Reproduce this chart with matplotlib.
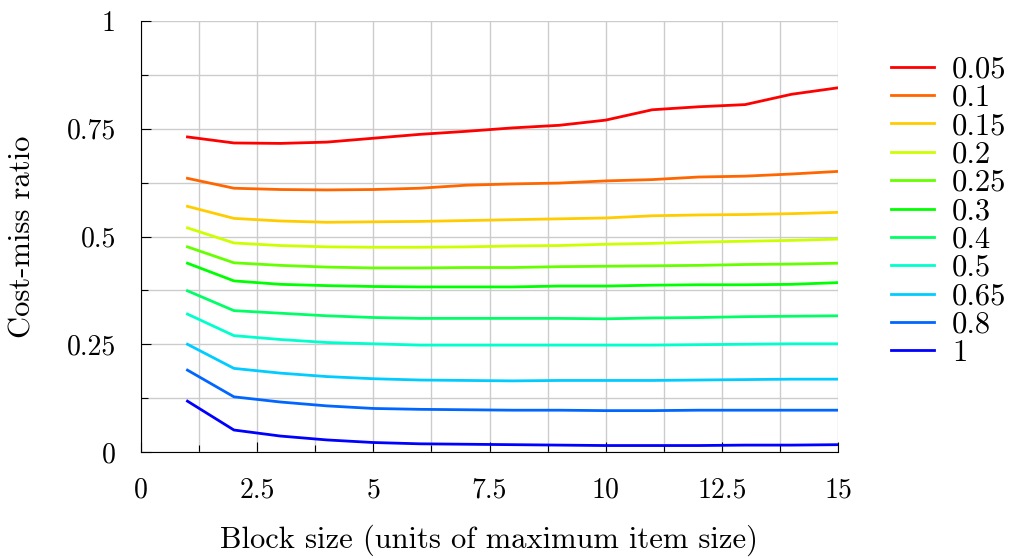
import matplotlib
matplotlib.use("Agg")
import matplotlib.pyplot as plt
from matplotlib.ticker import MultipleLocator, FixedLocator

# block sizes
block = [1, 2, 3, 4, 5, 6, 7, 8, 9, 10, 11, 12, 13, 14, 15]

labels = ["0.05", "0.1", "0.15", "0.2", "0.25", "0.3", "0.4", "0.5", "0.65", "0.8", "1"]

r005 = [0.731, 0.717, 0.716, 0.719, 0.728, 0.737, 0.744, 0.752, 0.758, 0.770, 0.794, 0.801, 0.806, 0.830, 0.845]
r01 = [0.635, 0.612, 0.609, 0.608, 0.609, 0.612, 0.619, 0.622, 0.624, 0.629, 0.632, 0.638, 0.640, 0.645, 0.651]
r015 = [0.570, 0.542, 0.536, 0.533, 0.534, 0.535, 0.537, 0.539, 0.541, 0.543, 0.548, 0.550, 0.551, 0.553, 0.556]
r02 = [0.520, 0.485, 0.479, 0.476, 0.475, 0.475, 0.476, 0.478, 0.479, 0.482, 0.484, 0.487, 0.489, 0.491, 0.494]
r025 = [0.476, 0.439, 0.433, 0.429, 0.427, 0.427, 0.428, 0.428, 0.430, 0.431, 0.432, 0.433, 0.435, 0.436, 0.438]
r03 = [0.438, 0.397, 0.389, 0.386, 0.384, 0.383, 0.383, 0.383, 0.385, 0.385, 0.387, 0.388, 0.388, 0.389, 0.393]
r04 = [0.374, 0.328, 0.322, 0.316, 0.312, 0.310, 0.310, 0.310, 0.310, 0.309, 0.311, 0.312, 0.314, 0.315, 0.316]
r05 = [0.320, 0.270, 0.261, 0.254, 0.251, 0.248, 0.248, 0.248, 0.248, 0.248, 0.248, 0.249, 0.250, 0.251, 0.251]
r065 = [0.250, 0.194, 0.183, 0.175, 0.170, 0.167, 0.166, 0.165, 0.166, 0.166, 0.166, 0.167, 0.168, 0.169, 0.169]
r08 = [0.190, 0.128, 0.116, 0.107, 0.101, 0.099, 0.098, 0.097, 0.097, 0.096, 0.096, 0.097, 0.097, 0.097, 0.097]
r1 = [0.118, 0.051, 0.037, 0.028, 0.022, 0.019, 0.018, 0.017, 0.016, 0.015, 0.015, 0.015, 0.016, 0.016, 0.017]

series = [r005, r01, r015, r02, r025, r03, r04, r05, r065, r08, r1]
colors = ["#ff0000", "#ff6600", "#ffcc00", "#ccff00", "#66ff00", "#00ff00",
          "#00ff66", "#00ffcc", "#00ccff", "#0066ff", "#0000ff"]

xticks = [0, 2.5, 5, 7.5, 10, 12.5, 15]
xticklabels = ["0", "2.5", "5", "7.5", "10", "12.5", "15"]
yticks = [0, 0.25, 0.5, 0.75, 1]
yticklabels = ["0", "0.25", "0.5", "0.75", "1"]


def main():
    plt.rcParams["font.family"] = ["cmr10", "DejaVu Serif"]
    plt.rcParams["font.size"] = 20
    plt.rcParams["axes.unicode_minus"] = False

    fig = plt.figure(figsize=(10.11, 5.59), dpi=100)
    ax = fig.add_axes([141 / 1011, 107 / 559, 697 / 1011, 431 / 559])

    for ys, c, lab in zip(series, colors, labels):
        ax.plot(block, ys, color=c, lw=2.0, label=lab)

    ax.set_xlim(0, 15)
    ax.set_ylim(0, 1)
    ax.xaxis.set_major_locator(FixedLocator(xticks))
    ax.set_xticklabels(xticklabels)
    ax.yaxis.set_major_locator(FixedLocator(yticks))
    ax.set_yticklabels(yticklabels)
    ax.xaxis.set_minor_locator(MultipleLocator(1.25))
    ax.yaxis.set_minor_locator(MultipleLocator(0.125))

    ax.grid(True, which="both", color="#cccccc", lw=1.0)
    ax.set_axisbelow(True)
    ax.tick_params(which="major", direction="in", length=7.5, width=0.8, pad=18)
    ax.tick_params(which="minor", direction="in", length=5, width=0.8)

    for s in ["top", "right"]:
        ax.spines[s].set_visible(False)
    for s in ["left", "bottom"]:
        ax.spines[s].set_linewidth(0.8)

    ax.set_xlabel("Block size (units of maximum item size)", fontsize=22)
    ax.set_ylabel("Cost-miss ratio", fontsize=22)
    ax.xaxis.set_label_coords(0.5, -0.168)
    ax.yaxis.set_label_coords(-0.150, 0.5)

    ax.legend(loc="upper left", bbox_to_anchor=(891 / 1011, 1 - 56 / 559),
              bbox_transform=fig.transFigure, frameon=False, borderpad=0,
              borderaxespad=0, handlelength=1.4, handletextpad=0.59,
              labelspacing=0.03, fontsize=22)

    fig.savefig("out.png", dpi=100)


if __name__ == "__main__":
    main()
